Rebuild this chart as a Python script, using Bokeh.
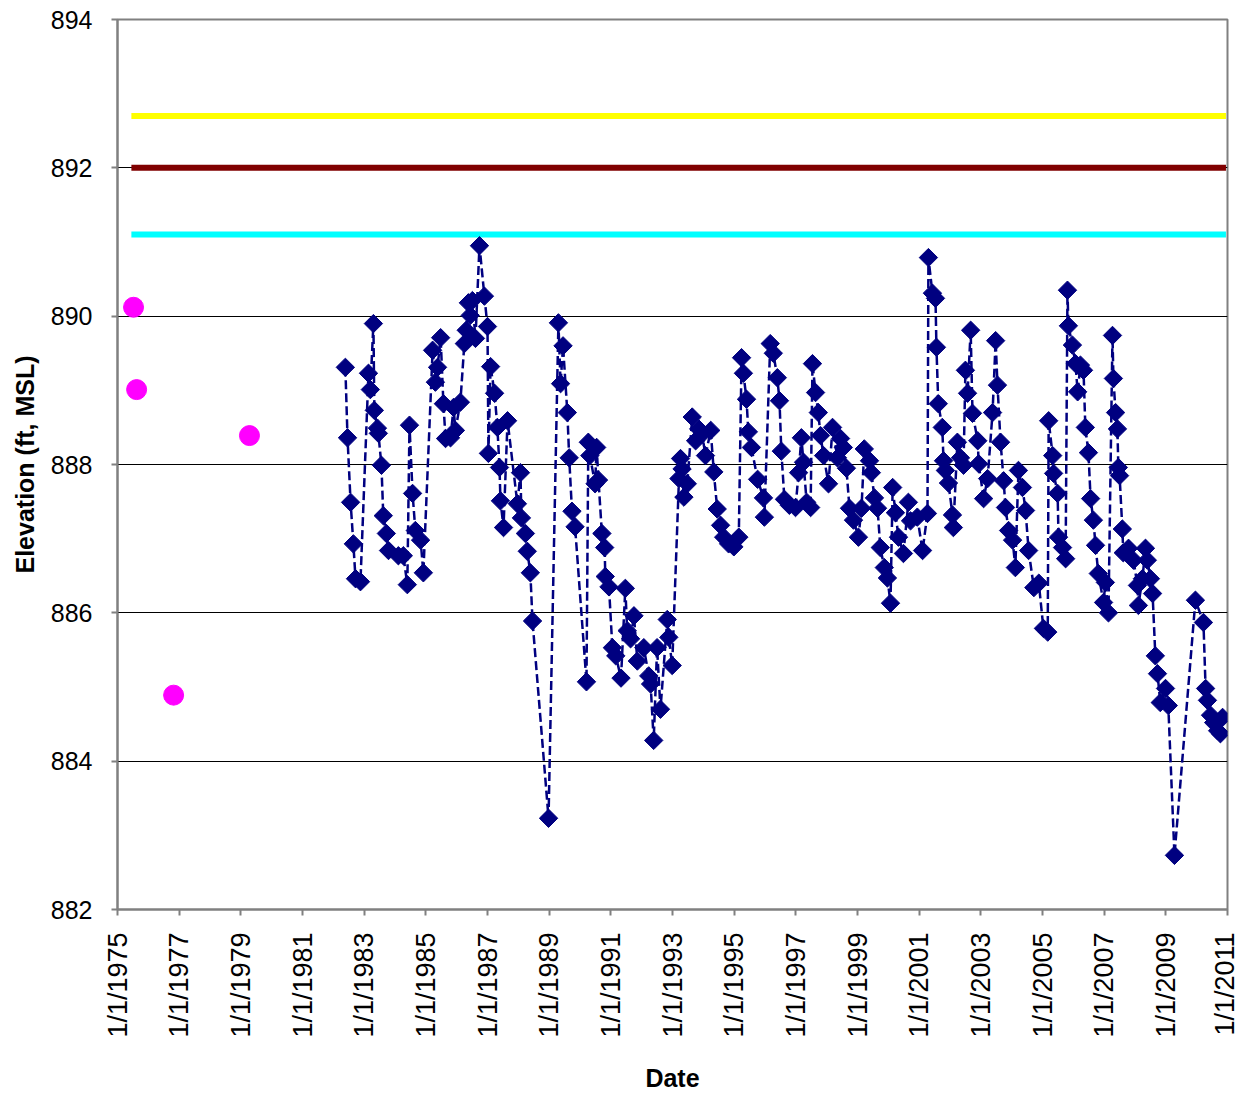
import math
from bokeh.plotting import figure
from bokeh.models import FixedTicker, Range1d
from bokeh.embed import file_html
from bokeh.resources import INLINE

# ---------------- data ----------------
years = [
    1982.39, 1982.46, 1982.56, 1982.65, 1982.72, 1982.88, 1983.14, 1983.20, 1983.30, 1983.33,
    1983.43, 1983.46, 1983.56, 1983.62, 1983.72, 1983.79, 1984.11, 1984.27, 1984.40, 1984.47,
    1984.57, 1984.66, 1984.83, 1984.92, 1985.22, 1985.31, 1985.38, 1985.48, 1985.57, 1985.64,
    1985.80, 1985.90, 1985.96, 1986.12, 1986.25, 1986.31, 1986.38, 1986.44, 1986.51, 1986.61,
    1986.74,
    1986.90, 1987.00, 1987.03, 1987.10, 1987.23, 1987.32, 1987.39, 1987.42, 1987.52, 1987.65,
    1987.97, 1988.07, 1988.10, 1988.23, 1988.29, 1988.39, 1988.46, 1988.98,
    1989.30, 1989.37, 1989.45, 1989.59, 1989.65, 1989.74, 1989.84, 1990.21, 1990.27, 1990.32,
    1990.49, 1990.54, 1990.60, 1990.71, 1990.80, 1990.82, 1990.94, 1991.05, 1991.16, 1991.33,
    1991.47, 1991.53, 1991.64, 1991.75, 1991.86, 1992.07, 1992.23, 1992.29, 1992.39, 1992.50,
    1992.61, 1992.83, 1992.88, 1992.99, 1993.21, 1993.26, 1993.31, 1993.37, 1993.48, 1993.64,
    1993.75, 1993.85, 1993.96, 1994.07, 1994.24, 1994.34, 1994.45, 1994.56, 1994.66, 1994.82,
    1994.99, 1995.15,
    1995.24, 1995.30, 1995.40, 1995.46, 1995.56, 1995.76, 1995.95, 1995.98, 1996.17, 1996.27,
    1996.40, 1996.47, 1996.53, 1996.63, 1996.79, 1996.99, 1997.09, 1997.18, 1997.25, 1997.35,
    1997.48, 1997.54, 1997.64, 1997.73, 1997.80, 1997.90, 1998.06, 1998.19, 1998.35, 1998.45,
    1998.54, 1998.64, 1998.74, 1998.87, 1999.03, 1999.13, 1999.22, 1999.39, 1999.45, 1999.55,
    1999.65, 1999.74, 1999.87, 1999.97, 2000.07, 2000.14, 2000.23, 2000.33, 2000.49, 2000.65,
    2000.72, 2000.94, 2001.11, 2001.27,
    2001.30, 2001.43, 2001.53, 2001.56, 2001.62, 2001.75, 2001.79, 2001.85, 2001.95, 2002.08,
    2002.11, 2002.24, 2002.34, 2002.44, 2002.50, 2002.57, 2002.67, 2002.73, 2002.90, 2002.93,
    2003.09, 2003.22, 2003.38, 2003.48, 2003.54, 2003.64, 2003.74, 2003.80, 2003.90, 2004.03,
    2004.12, 2004.22, 2004.35, 2004.45, 2004.55, 2004.72, 2004.88, 2005.03, 2005.17, 2005.20,
    2005.33, 2005.36, 2005.49, 2005.52, 2005.65, 2005.75,
    2005.81, 2005.84, 2005.97, 2006.07, 2006.14, 2006.23, 2006.33, 2006.39, 2006.49, 2006.56,
    2006.65, 2006.72, 2006.81, 2006.98, 2007.04, 2007.14, 2007.27, 2007.30, 2007.37, 2007.43,
    2007.46, 2007.50, 2007.59, 2007.62, 2007.79, 2007.95, 2008.08, 2008.11, 2008.24, 2008.34,
    2008.40, 2008.50, 2008.57, 2008.66, 2008.73, 2008.82, 2008.99, 2009.08, 2009.28, 2009.96,
    2010.22, 2010.29, 2010.35, 2010.45, 2010.55, 2010.68, 2010.77, 2010.84,
]
elevation = [
    889.31, 888.36, 887.49, 886.93, 886.46, 886.42, 889.23, 889.01, 889.90, 888.73,
    888.49, 888.42, 887.99, 887.31, 887.07, 886.84, 886.77, 886.77, 886.38, 888.53,
    887.61, 887.11, 886.98, 886.54, 889.54, 889.11, 889.31, 889.71, 888.82, 888.35,
    888.36, 888.77, 888.46, 888.84, 889.63, 889.81, 890.18, 890.01, 890.21, 889.70,
    890.95,
    890.27, 889.86, 888.15, 889.32, 888.96, 888.50, 887.96, 887.51, 887.15, 888.59,
    887.47, 887.89, 887.28, 887.07, 886.83, 886.54, 885.89, 883.23,
    889.91, 889.09, 889.60, 888.70, 888.09, 887.37, 887.16, 885.07, 888.30, 888.12,
    887.74, 888.23, 887.79, 887.07, 886.88, 886.49, 886.35, 885.53, 885.42, 885.12,
    886.33, 885.76, 885.65, 885.96, 885.35, 885.53, 885.15, 885.04, 884.28, 885.53,
    884.70, 885.91, 885.67, 885.29, 887.81, 888.08, 887.94, 887.56, 887.74, 888.64,
    888.32, 888.48, 888.41, 888.12, 888.46, 887.90, 887.40, 887.18, 887.02, 886.93,
    886.89, 887.02,
    889.44, 889.23, 888.88, 888.44, 888.23, 887.80, 887.55, 887.29, 889.63, 889.50,
    889.17, 888.86, 888.18, 887.53, 887.45, 887.42, 887.89, 888.36, 888.03, 887.49,
    887.42, 889.36, 888.97, 888.70, 888.39, 888.12, 887.74, 888.50, 888.09, 888.35,
    888.23, 887.95, 887.41, 887.25, 887.02, 887.41, 888.21, 888.05, 887.89, 887.55,
    887.41, 886.88, 886.61, 886.47, 886.13, 887.69, 887.35, 887.02, 886.80, 887.49,
    887.24, 887.29, 886.84, 887.34,
    890.79, 890.31, 890.24, 889.58, 888.82, 888.50, 888.05, 887.92, 887.75, 887.32,
    887.15, 888.30, 888.09, 887.99, 889.27, 888.96, 889.81, 888.69, 888.32, 888.01,
    887.54, 887.81, 888.70, 889.67, 889.07, 888.30, 887.78, 887.42, 887.11, 886.98,
    886.61, 887.92, 887.69, 887.38, 886.84, 886.34, 886.40, 885.79, 885.74, 888.59,
    888.12, 887.88, 887.61, 887.02, 886.88, 886.73,
    890.35, 889.87, 889.61, 889.36, 888.98, 889.34, 889.27, 888.50, 888.16, 887.54,
    887.25, 886.91, 886.53, 886.14, 886.41, 886.00, 889.74, 889.16, 888.70, 888.48,
    887.96, 887.85, 887.13, 886.81, 886.87, 886.71, 886.37, 886.10, 886.46, 886.87,
    886.71, 886.46, 886.26, 885.42, 885.18, 884.79, 884.98, 884.75, 882.73, 886.17,
    885.87, 884.98, 884.82, 884.62, 884.52, 884.41, 884.37, 884.59,
]

early_years = [1975.52, 1975.62, 1976.82, 1979.28]
early_elevation = [890.12, 889.01, 884.89, 888.39]

level_span = [1975.45, 2010.95]
level_yellow = 892.7
level_red = 892.0
level_cyan = 891.1

tick_years = list(range(1975, 2012, 2))
tick_labels = {yr: "1/1/%d" % yr for yr in tick_years}
y_ticks = [882, 884, 886, 888, 890, 892, 894]

FONT = "Liberation Sans"

p = figure(
    frame_width=1110, frame_height=890,
    x_range=Range1d(1975, 2011), y_range=Range1d(882, 894),
    output_backend="svg", toolbar_location=None,
    min_border_left=117, min_border_top=19, min_border_right=12, min_border_bottom=4,
    background_fill_color="white", border_fill_color="white",
)

p.outline_line_color = "#808080"
p.outline_line_width = 2

# reference level lines
p.line(level_span, [level_yellow] * 2, line_color="#FFFF00", line_width=6)
p.line(level_span, [level_red] * 2, line_color="#800000", line_width=6)
p.line(level_span, [level_cyan] * 2, line_color="#00FFFF", line_width=6)

# main series
p.line(years, elevation, line_color="#000080", line_width=2.5, line_dash="9 4")
p.scatter(years, elevation, marker="square", size=13, angle=math.pi / 4,
          fill_color="#000080", line_color="#000080")

# early points
p.scatter(early_years, early_elevation, marker="circle", size=20,
          fill_color="#FF00FF", line_color="#FF00FF")

# axes
p.xaxis.ticker = FixedTicker(ticks=tick_years)
p.xaxis.major_label_overrides = tick_labels
p.xaxis.major_label_orientation = math.pi / 2
p.yaxis.ticker = FixedTicker(ticks=y_ticks)
p.xaxis.minor_tick_line_color = None
p.yaxis.minor_tick_line_color = None

for ax in (p.xaxis, p.yaxis):
    ax.axis_line_color = "#808080"
    ax.axis_line_width = 2
    ax.major_tick_line_color = "#808080"
    ax.major_tick_line_width = 2
    ax.major_tick_out = 6
    ax.major_tick_in = 0
    ax.major_label_text_font = FONT
    ax.major_label_text_font_size = "25px"
    ax.major_label_text_color = "black"
    ax.axis_label_text_font = FONT
    ax.axis_label_text_font_size = "25px"
    ax.axis_label_text_font_style = "bold"
    ax.axis_label_text_color = "black"

p.xaxis.major_label_text_font_size = "27px"
p.xaxis.axis_label = "Date"
p.yaxis.axis_label = "Elevation (ft, MSL)"
p.xaxis.major_label_standoff = 17
p.yaxis.major_label_standoff = 19
p.xaxis.axis_label_standoff = 23
p.yaxis.axis_label_standoff = 9

p.xgrid.grid_line_color = None
p.ygrid.grid_line_color = "black"
p.ygrid.grid_line_width = 1

open("out.html", "w").write(file_html(p, INLINE))
